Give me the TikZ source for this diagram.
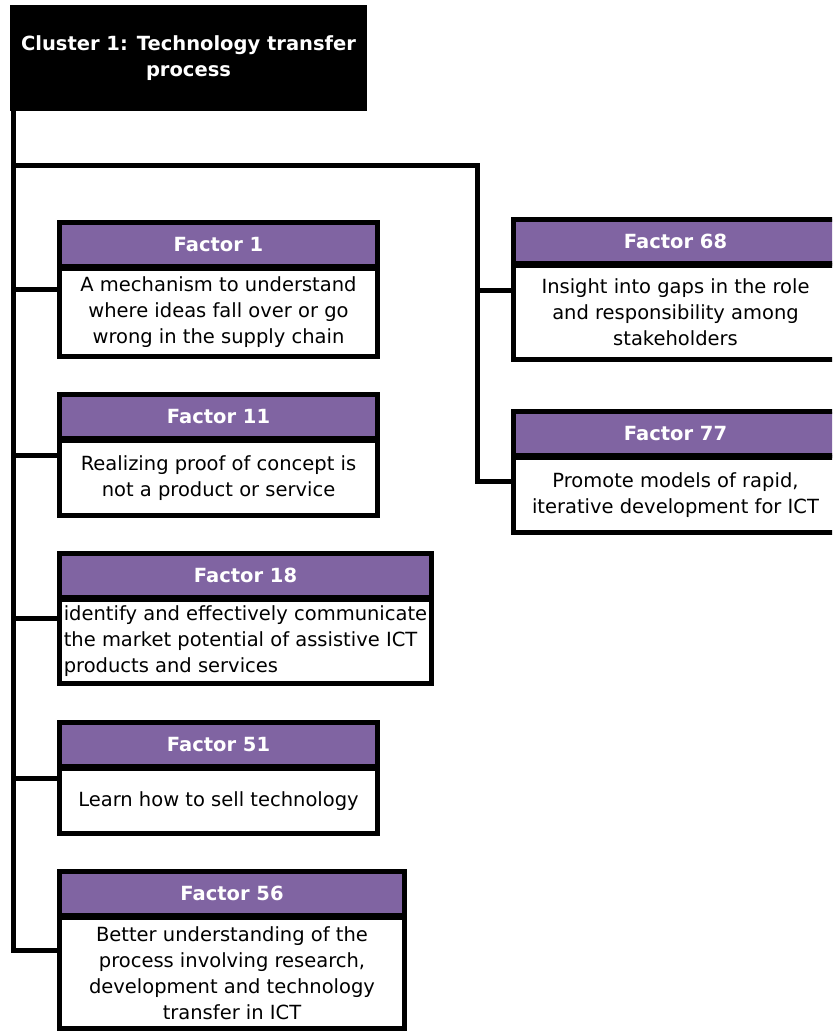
\documentclass[tikz,border=0pt]{standalone}
\usepackage{fontspec}
\setmainfont{DejaVu Sans}
\definecolor{factorpurple}{HTML}{8064A2}
\newcommand{\boxfont}{\fontsize{19.5}{26}\selectfont}
\begin{document}
\begin{tikzpicture}[x=1pt,y=-1pt,
  wire/.style={line width=5pt, line join=miter, line cap=butt},
  titlebox/.style={fill=black, text=white, font=\boxfont\bfseries, inner sep=0pt, outer sep=0pt,
    anchor=north west, minimum width=357pt, minimum height=106pt, align=center},
  hdr/.style={draw=black, line width=5pt, fill=factorpurple, text=white, font=\boxfont\bfseries,
    inner sep=0pt, outer sep=0pt, anchor=north west, minimum height=44pt},
  bodybox/.style={draw=black, line width=5pt, fill=white, font=\boxfont, inner sep=0pt, outer sep=0pt,
    anchor=north west, align=center}]
\clip (0,0) rectangle (832,1032);
\fill[white] (0,0) rectangle (832,1032);

% cluster title
\node[titlebox] (title) at (10,5) {Cluster 1: Technology transfer\\process};

% left column of factors
\node[hdr, minimum width=318pt] (f1h) at (59.5,222.5) {Factor 1};
\node[bodybox, minimum width=318pt, minimum height=88pt] (f1b) at (59.5,268.5)
  {A mechanism to understand\\where ideas fall over or go\\wrong in the supply chain};

\node[hdr, minimum width=318pt] (f11h) at (59.5,394.5) {Factor 11};
\node[bodybox, minimum width=318pt, minimum height=75pt] (f11b) at (59.5,440.5)
  {Realizing proof of concept is\\not a product or service};

\node[hdr, minimum width=372pt] (f18h) at (59.5,553.5) {Factor 18};
\node[bodybox, align=left, minimum width=372pt, minimum height=84pt] (f18b) at (59.5,599.5)
  {identify and effectively communicate\\the market potential of assistive ICT\\products and services};

\node[hdr, minimum width=318pt] (f51h) at (59.5,722.5) {Factor 51};
\node[bodybox, minimum width=318pt, minimum height=65pt] (f51b) at (59.5,768.5)
  {Learn how to sell technology};

\node[hdr, minimum width=345pt] (f56h) at (59.5,871.5) {Factor 56};
\node[bodybox, minimum width=345pt, minimum height=111pt] (f56b) at (59.5,917.5)
  {Better understanding of the\\process involving research,\\development and technology\\transfer in ICT};

% right column of factors
\node[hdr, minimum width=324pt] (f68h) at (513.5,219.5) {Factor 68};
\node[bodybox, minimum width=324pt, minimum height=94pt] (f68b) at (513.5,265.5)
  {Insight into gaps in the role\\and responsibility among\\stakeholders};

\node[hdr, minimum width=324pt] (f77h) at (513.5,411.5) {Factor 77};
\node[bodybox, minimum width=324pt, minimum height=75pt] (f77b) at (513.5,457.5)
  {Promote models of rapid,\\iterative development for ICT};

% tree connectors
\coordinate (trunktop) at ([xshift=3pt]title.south west);
\coordinate (trunkbot) at (13,950);
\coordinate (split) at (13,165.5);
\coordinate (corner) at (477.5,165.5);
\coordinate (rbot) at (477.5,481);
\coordinate (j68) at (477.5,290);
\coordinate (j1) at (13,289);
\coordinate (j11) at (13,455);
\coordinate (j18) at (13,618);
\coordinate (j51) at (13,778);

\draw[wire] (trunktop) -- (trunkbot) -- (trunkbot -| f56b.west);
\draw[wire] (j1) -- (j1 -| f1b.west);
\draw[wire] (j11) -- (j11 -| f11b.west);
\draw[wire] (j18) -- (j18 -| f18b.west);
\draw[wire] (j51) -- (j51 -| f51b.west);
\draw[wire] (split) -- (corner) -- (rbot) -- (rbot -| f77b.west);
\draw[wire] (j68) -- (j68 -| f68b.west);
\end{tikzpicture}
\end{document}
